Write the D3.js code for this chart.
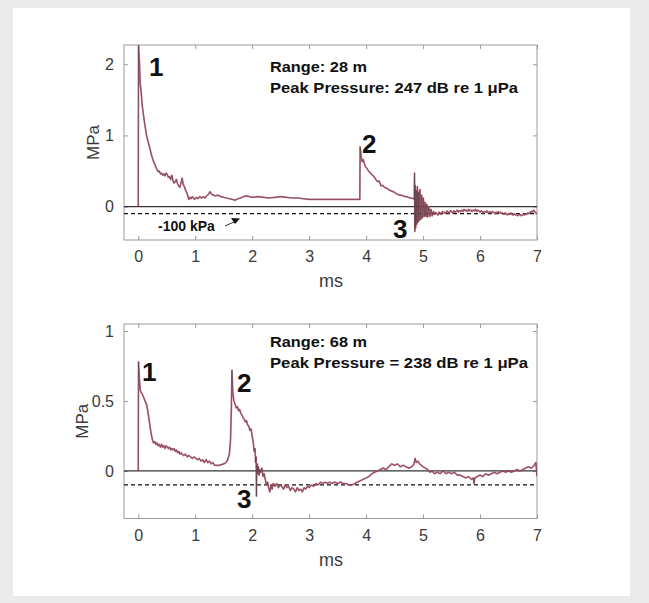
<!DOCTYPE html>
<html>
<head>
<meta charset="utf-8">
<script src="https://cdn.jsdelivr.net/npm/d3@7"></script>
<style>
  html, body { margin: 0; padding: 0; background: #ebebeb; }
  svg { display: block; }
  text { font-family: "Liberation Sans", Arial, Helvetica, sans-serif; }
</style>
</head>
<body>
<script>
// ---------------- DATA ----------------
const xTicks = [0, 1, 2, 3, 4, 5, 6, 7];
const yTicksTop = [0, 1, 2];
const yTicksBottom = [0, 0.5, 1];
const thresholdMPa = -0.1;

// Top panel: range 28 m (time in ms, pressure in MPa)
const topTime = [0.00,0.005,0.02,0.035,0.05,0.07,0.09,0.11,0.13,0.15,0.17,0.19,0.21,0.23,0.25,0.27,0.29,0.31,0.33,0.35,0.37,0.39,0.41,0.43,0.45,0.47,0.49,0.51,0.53,0.55,0.57,0.59,0.61,0.63,0.65,0.67,0.69,0.71,0.73,0.75,0.77,0.79,0.81,0.83,0.85,0.87,0.89,0.91,0.93,0.95,0.97,0.99,1.02,1.05,1.08,1.11,1.14,1.17,1.20,1.23,1.26,1.29,1.32,1.36,1.40,1.45,1.50,1.55,1.60,1.65,1.70,1.75,1.80,1.85,1.90,1.95,2.00,2.10,2.20,2.30,2.40,2.50,2.60,2.70,2.80,2.90,3.00,3.20,3.40,3.60,3.80,3.89,3.895,3.91,3.93,3.95,3.97,3.99,4.02,4.05,4.08,4.11,4.14,4.17,4.20,4.23,4.26,4.29,4.32,4.35,4.38,4.41,4.44,4.47,4.50,4.53,4.56,4.59,4.62,4.65,4.68,4.71,4.74,4.77,4.80,4.83,4.845,4.85,4.855,4.86,4.87,4.88,4.89,4.90,4.91,4.92,4.93,4.945,4.96,4.975,4.99,5.005,5.02,5.035,5.05,5.065,5.08,5.10,5.12,5.14,5.16,5.18,
  5.20,5.22,5.24,5.26,5.28,5.30,5.32,5.34,5.36,5.38,5.40,5.42,5.44,5.46,5.48,5.50,5.52,5.54,5.56,5.58,5.60,5.62,5.64,5.66,5.68,5.70,5.72,5.74,5.76,5.78,5.80,5.82,5.84,5.86,5.88,5.90,5.92,5.94,5.96,5.98,6.00,6.02,6.04,6.06,6.08,6.10,6.12,6.14,6.16,6.18,6.20,6.22,6.24,6.26,6.28,6.30,6.32,6.34,6.36,6.38,6.40,6.42,6.44,6.46,6.48,6.50,6.52,6.54,6.56,6.58,6.60,6.62,6.64,6.66,6.68,6.70,6.72,6.74,6.76,6.78,6.80,6.82,6.84,6.86,6.88,6.90,6.92,6.94,6.96,6.98,7.00];
const topPressure = [0.00,2.26,2.05,1.72,1.62,1.42,1.30,1.18,1.08,0.98,0.92,0.86,0.80,0.73,0.68,0.63,0.60,0.55,0.52,0.49,0.50,0.46,0.47,0.44,0.46,0.43,0.47,0.45,0.41,0.42,0.38,0.44,0.36,0.33,0.35,0.38,0.32,0.29,0.27,0.33,0.40,0.31,0.28,0.23,0.20,0.15,0.10,0.13,0.11,0.14,0.12,0.10,0.13,0.11,0.14,0.12,0.14,0.12,0.15,0.17,0.21,0.17,0.16,0.15,0.16,0.14,0.13,0.12,0.11,0.10,0.09,0.11,0.12,0.14,0.15,0.14,0.13,0.14,0.13,0.12,0.13,0.14,0.13,0.12,0.12,0.11,0.10,0.10,0.10,0.10,0.10,0.10,0.84,0.72,0.63,0.66,0.60,0.56,0.53,0.49,0.47,0.44,0.42,0.38,0.35,0.36,0.29,0.30,0.27,0.26,0.25,0.23,0.22,0.21,0.20,0.18,0.17,0.16,0.16,0.15,0.14,0.14,0.13,0.12,0.12,0.11,0.10,0.47,-0.35,0.30,-0.30,0.22,-0.25,0.28,-0.22,0.20,-0.20,0.24,-0.18,0.16,-0.16,0.12,-0.14,0.06,-0.14,0.03,-0.15,0.00,-0.14,-0.04,-0.13,-0.07,
  -0.11,-0.08,-0.10,-0.12,-0.08,-0.09,-0.11,-0.07,-0.09,-0.08,-0.10,-0.06,-0.08,-0.09,-0.06,-0.07,-0.09,-0.06,-0.08,-0.07,-0.05,-0.08,-0.06,-0.07,-0.05,-0.07,-0.04,-0.06,-0.05,-0.07,-0.04,-0.06,-0.05,-0.07,-0.05,-0.06,-0.04,-0.07,-0.05,-0.06,-0.08,-0.06,-0.07,-0.09,-0.07,-0.08,-0.06,-0.09,-0.08,-0.07,-0.09,-0.07,-0.08,-0.10,-0.08,-0.09,-0.07,-0.09,-0.08,-0.10,-0.09,-0.11,-0.09,-0.10,-0.12,-0.10,-0.11,-0.09,-0.11,-0.12,-0.10,-0.12,-0.11,-0.13,-0.12,-0.11,-0.13,-0.12,-0.11,-0.12,-0.10,-0.11,-0.09,-0.10,-0.08,-0.07,-0.08,-0.05,-0.07,-0.09,-0.10];

// Bottom panel: range 68 m
const bottomTime = [0.00,0.005,0.02,0.035,0.05,0.07,0.09,0.11,0.13,0.15,0.17,0.19,0.21,0.23,0.25,0.27,0.29,0.31,0.33,0.35,0.37,0.39,0.41,0.43,0.45,0.47,0.49,0.51,0.53,0.55,0.57,0.59,0.61,0.63,0.65,0.67,0.69,0.71,0.73,0.75,0.77,0.80,0.83,0.86,0.89,0.92,0.95,0.98,1.01,1.04,1.07,1.10,1.13,1.16,1.19,1.22,1.25,1.28,1.31,1.34,1.38,1.42,1.46,1.50,1.54,1.57,1.60,1.62,1.635,1.645,1.66,1.68,1.70,1.72,1.74,1.76,1.78,1.80,1.82,1.84,1.86,1.88,1.90,1.92,1.94,1.96,1.98,2.00,2.02,2.035,2.05,2.06,2.07,2.075,2.08,2.09,2.10,2.11,2.12,2.13,2.15,2.17,2.19,2.21,2.23,2.25,2.27,2.29,2.31,2.33,2.35,2.37,2.40,2.43,2.46,2.49,2.52,2.55,2.58,2.61,2.64,2.67,2.70,2.73,2.76,2.79,2.82,2.85,2.88,2.91,2.94,2.97,3.00,3.04,3.08,3.12,3.16,3.20,3.24,3.28,3.32,3.36,3.40,3.45,3.50,3.55,3.60,3.65,3.70,3.75,3.80,3.85,3.90,3.95,4.00,4.05,4.10,4.15,4.20,4.25,4.30,4.35,4.40,4.45,4.50,4.55,4.60,4.65,4.70,4.75,4.80,4.84,4.86,4.88,4.91,4.94,4.97,5.00,5.04,5.08,5.12,5.16,5.20,5.25,5.30,5.35,5.40,5.45,5.50,5.55,5.60,5.65,5.70,5.75,5.80,5.85,5.88,5.895,5.91,5.95,6.00,6.05,6.10,6.15,6.20,6.25,6.30,6.35,6.40,6.45,6.50,6.55,6.60,6.65,6.70,6.75,6.80,6.85,6.90,6.95,6.98,7.00];
const bottomPressure = [0.00,0.78,0.66,0.58,0.56,0.55,0.53,0.51,0.49,0.47,0.42,0.37,0.31,0.26,0.22,0.20,0.21,0.19,0.20,0.18,0.19,0.17,0.19,0.17,0.18,0.16,0.18,0.17,0.16,0.17,0.15,0.16,0.15,0.16,0.14,0.15,0.13,0.14,0.12,0.13,0.12,0.11,0.12,0.10,0.11,0.10,0.09,0.10,0.09,0.08,0.09,0.07,0.08,0.06,0.08,0.06,0.07,0.05,0.06,0.04,0.04,0.04,0.045,0.05,0.06,0.08,0.12,0.22,0.45,0.72,0.56,0.50,0.48,0.45,0.46,0.43,0.44,0.41,0.40,0.38,0.37,0.35,0.36,0.33,0.32,0.29,0.30,0.25,0.20,0.14,0.16,0.06,0.10,-0.18,0.02,0.05,-0.02,0.03,-0.03,0.01,-0.01,0.02,-0.04,-0.02,-0.06,-0.10,-0.08,-0.12,-0.15,-0.10,-0.13,-0.09,-0.11,-0.09,-0.12,-0.10,-0.11,-0.13,-0.10,-0.12,-0.11,-0.14,-0.12,-0.13,-0.15,-0.12,-0.14,-0.13,-0.15,-0.12,-0.13,-0.11,-0.12,-0.10,-0.11,-0.09,-0.10,-0.08,-0.09,-0.08,-0.09,-0.08,-0.09,-0.08,-0.09,-0.08,-0.09,-0.09,-0.10,-0.10,-0.09,-0.08,-0.07,-0.06,-0.05,-0.04,-0.02,-0.01,0.00,0.01,0.02,0.01,0.03,0.05,0.04,0.05,0.03,0.04,0.03,0.02,0.03,0.05,0.09,0.06,0.07,0.05,0.04,0.03,0.02,0.01,-0.01,0.00,-0.02,-0.01,-0.02,0.00,-0.02,-0.01,-0.02,-0.01,-0.03,-0.03,-0.04,-0.05,-0.04,-0.06,-0.05,-0.09,-0.05,-0.04,-0.03,-0.04,-0.02,-0.03,-0.02,-0.01,-0.02,-0.01,0.00,-0.01,0.00,-0.01,0.00,0.01,0.00,0.01,0.02,0.03,0.02,0.04,0.06,-0.04];

const panels = [
  { time: topTime, pressure: topPressure, yDomain: [-0.47, 2.27], yTicks: yTicksTop,
    top: 45, bottom: 240, line1: "Range: 28 m", line2: "Peak Pressure: 247 dB re 1 \u03bcPa", yLabelX: 99,
    w1: 97, w2: 248, textY: 72, labels: [{t:"1", x:149, y:76}, {t:"2", x:362, y:153}, {t:"3", x:393, y:238}], arrow: true },
  { time: bottomTime, pressure: bottomPressure, yDomain: [-0.34, 1.05], yTicks: yTicksBottom,
    top: 324, bottom: 518.5, line1: "Range: 68 m", line2: "Peak Pressure = 238 dB re 1 \u03bcPa", yLabelX: 88,
    w1: 97, w2: 258, textY: 347, labels: [{t:"1", x:142, y:381}, {t:"2", x:237, y:392}, {t:"3", x:237, y:508}], arrow: false }
];

// ---------------- DRAW ----------------
const W = 649, H = 603;
const svg = d3.select("body").append("svg").attr("width", W).attr("height", H);
svg.append("rect").attr("x", 0).attr("y", 0).attr("width", W).attr("height", H).attr("fill", "#ebebeb");
svg.append("rect").attr("x", 13).attr("y", 8).attr("width", 617).attr("height", 588).attr("fill", "#ffffff");

const left = 124, right = 537;
const x = d3.scaleLinear().domain([-0.25, 7]).range([left, right]);
const boxColor = "#9a9a9a";
const labelColor = "#3a3a3a";

panels.forEach((p, i) => {
  const y = d3.scaleLinear().domain(p.yDomain).range([p.bottom, p.top]);
  const g = svg.append("g");
  const clipId = "clip" + i;
  svg.append("clipPath").attr("id", clipId).append("rect")
    .attr("x", left).attr("y", p.top).attr("width", right - left).attr("height", p.bottom - p.top);

  // axes
  const ax = g.append("g").attr("transform", `translate(0,${p.bottom})`)
    .call(d3.axisBottom(x).tickValues(xTicks).tickSize(-4).tickPadding(11).tickFormat(d3.format("d")));
  const axT = g.append("g").attr("transform", `translate(0,${p.top})`)
    .call(d3.axisTop(x).tickValues(xTicks).tickSize(-4).tickFormat(""));
  const ay = g.append("g").attr("transform", `translate(${left},0)`)
    .call(d3.axisLeft(y).tickValues(p.yTicks).tickSize(-4).tickPadding(10).tickFormat(d => String(d)));
  const ayR = g.append("g").attr("transform", `translate(${right},0)`)
    .call(d3.axisRight(y).tickValues(p.yTicks).tickSize(-4).tickFormat(""));
  [ax, axT, ay, ayR].forEach(a => {
    a.select(".domain").remove();
    a.selectAll(".tick line").attr("stroke", boxColor);
    a.selectAll("text").attr("fill", labelColor).style("font-size", "16px")
      .attr("font-family", "Liberation Sans, Arial, sans-serif");
  });

  g.append("rect").attr("x", left).attr("y", p.top).attr("width", right - left).attr("height", p.bottom - p.top)
    .attr("fill", "none").attr("stroke", boxColor).attr("stroke-width", 1);

  // axis titles
  g.append("text").attr("x", 331).attr("y", p.bottom + 47)
    .attr("text-anchor", "middle").attr("fill", labelColor).style("font-size", "18px").text("ms");
  g.append("text").attr("transform", `translate(${p.yLabelX},${(p.top + p.bottom) / 2}) rotate(-90)`)
    .attr("text-anchor", "middle").attr("fill", labelColor).style("font-size", "17px").text("MPa");

  // reference lines
  g.append("line").attr("x1", left).attr("x2", right).attr("y1", y(0)).attr("y2", y(0))
    .attr("stroke", "#333").attr("stroke-width", 1.2);
  g.append("line").attr("x1", left).attr("x2", right).attr("y1", y(thresholdMPa)).attr("y2", y(thresholdMPa))
    .attr("stroke", "#111").attr("stroke-width", 1.3).attr("stroke-dasharray", "4,3");

  // trace
  const data = p.time.map((t, k) => [t, p.pressure[k]]);
  const line = d3.line().x(d => x(d[0])).y(d => y(d[1]));
  const tg = g.append("g").attr("clip-path", `url(#${clipId})`);
  tg.append("path").datum(data).attr("d", line).attr("fill", "none")
    .attr("stroke", "#b85068").attr("stroke-width", 1.7).attr("stroke-opacity", 0.85).attr("stroke-linejoin", "round");
  tg.append("path").datum(data).attr("d", line).attr("fill", "none")
    .attr("stroke", "#4a3a3e").attr("stroke-width", 0.7).attr("stroke-opacity", 0.75).attr("stroke-linejoin", "round");

  // annotations
  g.append("text").attr("x", 270).attr("y", p.textY).attr("font-weight", "bold")
    .style("font-size", "15px").attr("fill", "#111")
    .attr("textLength", p.w1).attr("lengthAdjust", "spacingAndGlyphs").text(p.line1);
  g.append("text").attr("x", 270).attr("y", p.textY + 21).attr("font-weight", "bold")
    .style("font-size", "15px").attr("fill", "#111")
    .attr("textLength", p.w2).attr("lengthAdjust", "spacingAndGlyphs").text(p.line2);
  p.labels.forEach(l => {
    g.append("text").attr("x", l.x).attr("y", l.y).attr("font-weight", "bold")
      .style("font-size", "26px").attr("fill", "#111").text(l.t);
  });

  if (p.arrow) {
    g.append("text").attr("x", 158).attr("y", 231).attr("font-weight", "bold")
      .style("font-size", "14px").attr("fill", "#111").text("-100 kPa");
    g.append("line").attr("x1", 225).attr("y1", 226).attr("x2", 234).attr("y2", 222)
      .attr("stroke", "#333").attr("stroke-width", 1);
    g.append("path").attr("d", "M231,218 L240,218.5 L235,224 Z").attr("fill", "#111");
  }
});
</script>
</body>
</html>
